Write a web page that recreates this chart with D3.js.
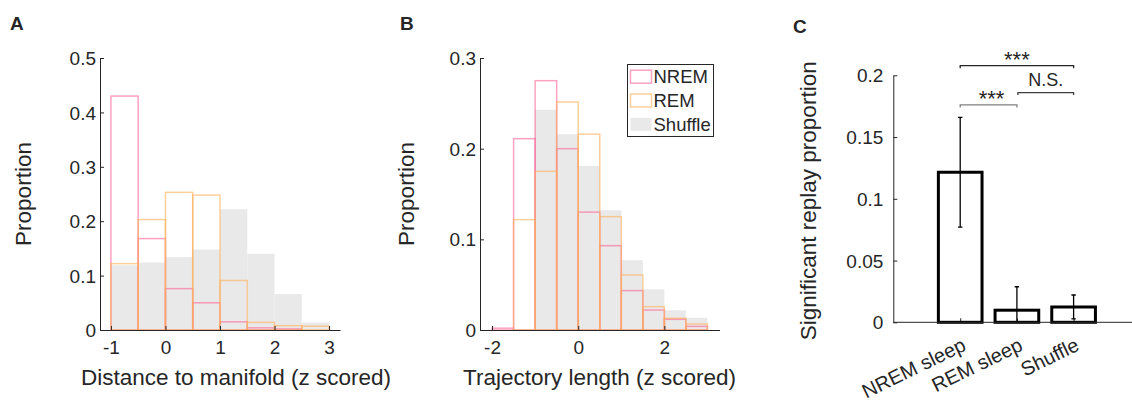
<!DOCTYPE html>
<html><head><meta charset="utf-8">
<script src="https://cdn.jsdelivr.net/npm/d3@7"></script>
<style>
body{margin:0;background:#fff}
svg{display:block}
text{font-family:"Liberation Sans",Arial,Helvetica,sans-serif;fill:#262626}
</style>
</head><body>
<svg id="chart" width="1132" height="402"></svg>
<script>
// ---------- DATA ----------
// Panel A: distance to manifold histograms
const edgesA = [-1, -0.5, 0, 0.5, 1, 1.5, 2, 2.5, 3];
const nremA = [0.430, 0.168, 0.076, 0.050, 0.015, 0.004, 0.002, 0];
const remA = [0.122, 0.203, 0.253, 0.248, 0.091, 0.014, 0.008, 0.007];
const shuffleA = [0.119, 0.124, 0.134, 0.148, 0.222, 0.140, 0.066, 0.0135];
const xTicksA = [-1, 0, 1, 2, 3];
const xTickLabelsA = ["-1", "0", "1", "2", "3"];
const yTicksA = [0, 0.1, 0.2, 0.3, 0.4, 0.5];
const yTickLabelsA = ["0", "0.1", "0.2", "0.3", "0.4", "0.5"];

// Panel B: trajectory length histograms
const edgesB = [-2, -1.5, -1, -0.5, 0, 0.5, 1, 1.5, 2, 2.5, 3];
const nremB = [0.002, 0.211, 0.275, 0.200, 0.130, 0.093, 0.0434, 0.022, 0.0118, 0.004];
const remB = [0, 0.1217, 0.175, 0.2515, 0.216, 0.125, 0.0607, 0.0257, 0.0129, 0.0066];
const shuffleB = [0, 0, 0.243, 0.216, 0.181, 0.132, 0.077, 0.045, 0.0217, 0.0136];
const xTicksB = [-2, 0, 2];
const xTickLabelsB = ["-2", "0", "2"];
const yTicksB = [0, 0.1, 0.2, 0.3];
const yTickLabelsB = ["0", "0.1", "0.2", "0.3"];
const legendLabels = ["NREM", "REM", "Shuffle"];

// Panel C: significant replay proportion
const categoriesC = ["NREM sleep", "REM sleep", "Shuffle"];
const meansC = [0.1215, 0.0098, 0.0124];
const errorsC = [0.0445, 0.0190, 0.0097];
const yTicksC = [0, 0.05, 0.1, 0.15, 0.2];
const yTickLabelsC = ["0", "0.05", "0.1", "0.15", "0.2"];
// significance brackets: from category index, to category index, height, label
const bracketFrom = [0, 1, 0];
const bracketTo = [2, 2, 1];
const bracketLevel = [0.2078, 0.1860, 0.1760];
const bracketLabels = ["***", "N.S.", "***"];

// ---------- STYLE ----------
const PINK = "rgb(255,100,150)";
const ORANGE = "rgb(255,175,90)";
const GRAY = "#e9e9e9";
const AXC = "#262626";
const LABEL_FS = 22.5;

const svg = d3.select("#chart");
svg.append("rect").attr("width", 1132).attr("height", 402).attr("fill", "#fff");

function styleAxis(g) {
  g.selectAll("path.domain").attr("stroke", AXC).attr("stroke-width", 1);
  g.selectAll(".tick line").attr("stroke", AXC).attr("stroke-width", 1);
  g.selectAll("text").attr("fill", AXC).style("font-family", '"Liberation Sans",Arial,sans-serif');
}

function histPanel(o) {
  const x = d3.scaleLinear().domain(o.xDomain).range([o.left, o.right]);
  const y = d3.scaleLinear().domain(o.yDomain).range([o.bottom, o.top]);
  const g = svg.append("g");
  const bins = (vals) => vals.map((v, i) => ({x0: o.edges[i], x1: o.edges[i + 1], v})).filter(d => d.v > 0);
  // shuffle: filled gray
  g.append("g").selectAll("rect").data(bins(o.shuffle)).join("rect")
    .attr("x", d => x(d.x0)).attr("width", d => x(d.x1) - x(d.x0))
    .attr("y", d => y(d.v)).attr("height", d => y(0) - y(d.v))
    .attr("fill", GRAY);
  // NREM and REM outlines
  [[o.nrem, PINK], [o.rem, ORANGE]].forEach(([vals, col]) => {
    g.append("g").selectAll("rect").data(bins(vals)).join("rect")
      .attr("x", d => x(d.x0)).attr("width", d => x(d.x1) - x(d.x0))
      .attr("y", d => y(d.v)).attr("height", d => y(0) - y(d.v))
      .attr("fill", "none").attr("stroke", col).attr("stroke-opacity", 0.6)
      .attr("stroke-width", 1.5);
  });
  // axes
  const ya = g.append("g").attr("transform", `translate(${o.left},0)`)
    .call(d3.axisLeft(y).tickValues(o.yTicks).tickFormat((d, i) => o.yTickLabels[i])
      .tickSizeInner(-4).tickSizeOuter(0).tickPadding(4));
  ya.selectAll("text").attr("font-size", 19).attr("dy", "0.35em");
  styleAxis(ya);
  const xa = g.append("g").attr("transform", `translate(0,${o.bottom})`)
    .call(d3.axisBottom(x).tickValues(o.xTicks).tickFormat((d, i) => o.xTickLabels[i])
      .tickSizeInner(-4).tickSizeOuter(0).tickPadding(11));
  xa.selectAll("text").attr("font-size", 19);
  styleAxis(xa);
  // labels
  g.append("text").attr("x", o.xLabelX).attr("y", 385)
    .attr("text-anchor", "middle").attr("font-size", LABEL_FS).text(o.xLabel);
  g.append("text").attr("transform", `translate(${o.yLabelX},${(o.top + o.bottom) / 2}) rotate(-90)`)
    .attr("text-anchor", "middle").attr("dy", "0.25em").attr("font-size", LABEL_FS).text("Proportion");
  g.append("text").attr("x", o.letterX).attr("y", 30).attr("font-size", 19)
    .attr("font-weight", "bold").attr("fill", "#000").text(o.letter);
  return {x, y, g};
}

histPanel({
  edges: edgesA, nrem: nremA, rem: remA, shuffle: shuffleA,
  xDomain: [-1.2, 3.2], yDomain: [0, 0.5],
  left: 100, right: 340, top: 58, bottom: 330,
  xTicks: xTicksA, xTickLabels: xTickLabelsA, yTicks: yTicksA, yTickLabels: yTickLabelsA,
  xLabel: "Distance to manifold (z scored)", xLabelX: 236, yLabelX: 25, letter: "A", letterX: 10
});

histPanel({
  edges: edgesB, nrem: nremB, rem: remB, shuffle: shuffleB,
  xDomain: [-2.28, 3.28], yDomain: [0, 0.3],
  left: 480, right: 719.5, top: 58, bottom: 330,
  xTicks: xTicksB, xTickLabels: xTickLabelsB, yTicks: yTicksB, yTickLabels: yTickLabelsB,
  xLabel: "Trajectory length (z scored)", xLabelX: 599.5, yLabelX: 408.5, letter: "B", letterX: 400
});

// legend in B
const lg = svg.append("g").attr("transform", "translate(627.5,64.5)");
lg.append("rect").attr("width", 86).attr("height", 72).attr("fill", "#fff")
  .attr("stroke", AXC).attr("stroke-width", 1);
const swFill = ["none", "none", GRAY];
const swStroke = [PINK, ORANGE, "none"];
legendLabels.forEach((lab, i) => {
  const cy = 12.2 + i * 23.8;
  lg.append("rect").attr("x", 3).attr("y", cy - 6.5).attr("width", 21).attr("height", 13)
    .attr("fill", swFill[i]).attr("stroke", swStroke[i]).attr("stroke-opacity", 0.6).attr("stroke-width", 1.5);
  lg.append("text").attr("x", 26).attr("y", cy).attr("dy", "0.36em").attr("font-size", 18.5)
    .attr("fill", "#000").text(lab);
});

// ---------- Panel C ----------
const cLeft = 893.3, cRight = 1132, cTop = 75.3, cBottom = 322.3;
const xC = d3.scaleLinear().domain([-0.18, 4.03]).range([cLeft, cRight]);
const yC = d3.scaleLinear().domain([0, 0.2]).range([cBottom, cTop]);
const gC = svg.append("g");
const barW = 0.77;
gC.append("defs").append("clipPath").attr("id", "clipC").append("rect")
  .attr("x", cLeft).attr("y", 0).attr("width", cRight - cLeft).attr("height", cBottom);
// ticks under bars
const xaC = gC.append("g").attr("transform", `translate(0,${cBottom})`)
  .call(d3.axisBottom(xC).tickValues([1, 2, 3]).tickFormat("").tickSizeInner(-4).tickSizeOuter(0));
xaC.select("path.domain").remove();
styleAxis(xaC);
// bars
gC.append("g").selectAll("rect").data(meansC).join("rect")
  .attr("x", (d, i) => xC(i + 1 - barW / 2)).attr("width", xC(barW) - xC(0))
  .attr("y", d => yC(d)).attr("height", d => yC(0) - yC(d))
  .attr("fill", "none").attr("stroke", "#000").attr("stroke-width", 3);
// error bars
const eb = gC.append("g").attr("clip-path", "url(#clipC)");
meansC.forEach((m, i) => {
  const cx = xC(i + 1);
  eb.append("line").attr("x1", cx).attr("x2", cx).attr("y1", yC(m - errorsC[i])).attr("y2", yC(m + errorsC[i]))
    .attr("stroke", "#000").attr("stroke-width", 1.3);
  [m - errorsC[i], m + errorsC[i]].forEach(v => {
    eb.append("line").attr("x1", cx - 2.2).attr("x2", cx + 2.2).attr("y1", yC(v)).attr("y2", yC(v))
      .attr("stroke", "#000").attr("stroke-width", 1.3);
  });
});
// axes
const yaC = gC.append("g").attr("transform", `translate(${cLeft},0)`)
  .call(d3.axisLeft(yC).tickValues(yTicksC).tickFormat((d, i) => yTickLabelsC[i])
    .tickSizeInner(-4).tickSizeOuter(0).tickPadding(10));
yaC.selectAll("text").attr("font-size", 19).attr("dy", "0.35em");
styleAxis(yaC);
gC.append("line").attr("x1", cLeft).attr("x2", cRight).attr("y1", cBottom).attr("y2", cBottom)
  .attr("stroke", AXC).attr("stroke-width", 1);
// category labels (rotated)
categoriesC.forEach((c, i) => {
  gC.append("text").attr("transform", `translate(${xC(i + 1) + 7},349.5) rotate(-26)`)
    .attr("text-anchor", "end").attr("font-size", 20).attr("fill", "#000").text(c);
});
// y label
gC.append("text").attr("transform", `translate(810,${(cTop + cBottom) / 2 + 2}) rotate(-90)`)
  .attr("text-anchor", "middle").attr("dy", "0.25em").attr("font-size", LABEL_FS).text("Significant replay proportion");
// panel letter
gC.append("text").attr("x", 793).attr("y", 33).attr("font-size", 19).attr("font-weight", "bold")
  .attr("fill", "#000").text("C");
// significance brackets
const brColors = ["#262626", "#404040", "#808080"];
bracketLabels.forEach((lab, i) => {
  const x1 = xC(bracketFrom[i] + 1), x2 = xC(bracketTo[i] + 1);
  const yy = yC(bracketLevel[i]);
  const xs = i === 1 ? x1 + 1 : x1;
  gC.append("path").attr("d", `M${xs},${yy + 2.5}V${yy}H${x2}V${yy + 2.5}`)
    .attr("fill", "none").attr("stroke", brColors[i]).attr("stroke-width", 1.3);
  const isStar = lab.startsWith("*");
  gC.append("text").attr("x", (xs + x2) / 2 + (i === 2 ? 3 : 0)).attr("y", isStar ? yy + 1 : yy - 6.5)
    .attr("text-anchor", "middle").attr("font-size", isStar ? 22 : 18)
    .attr("fill", isStar ? "#000" : "#333").text(lab);
});
</script>
</body></html>
